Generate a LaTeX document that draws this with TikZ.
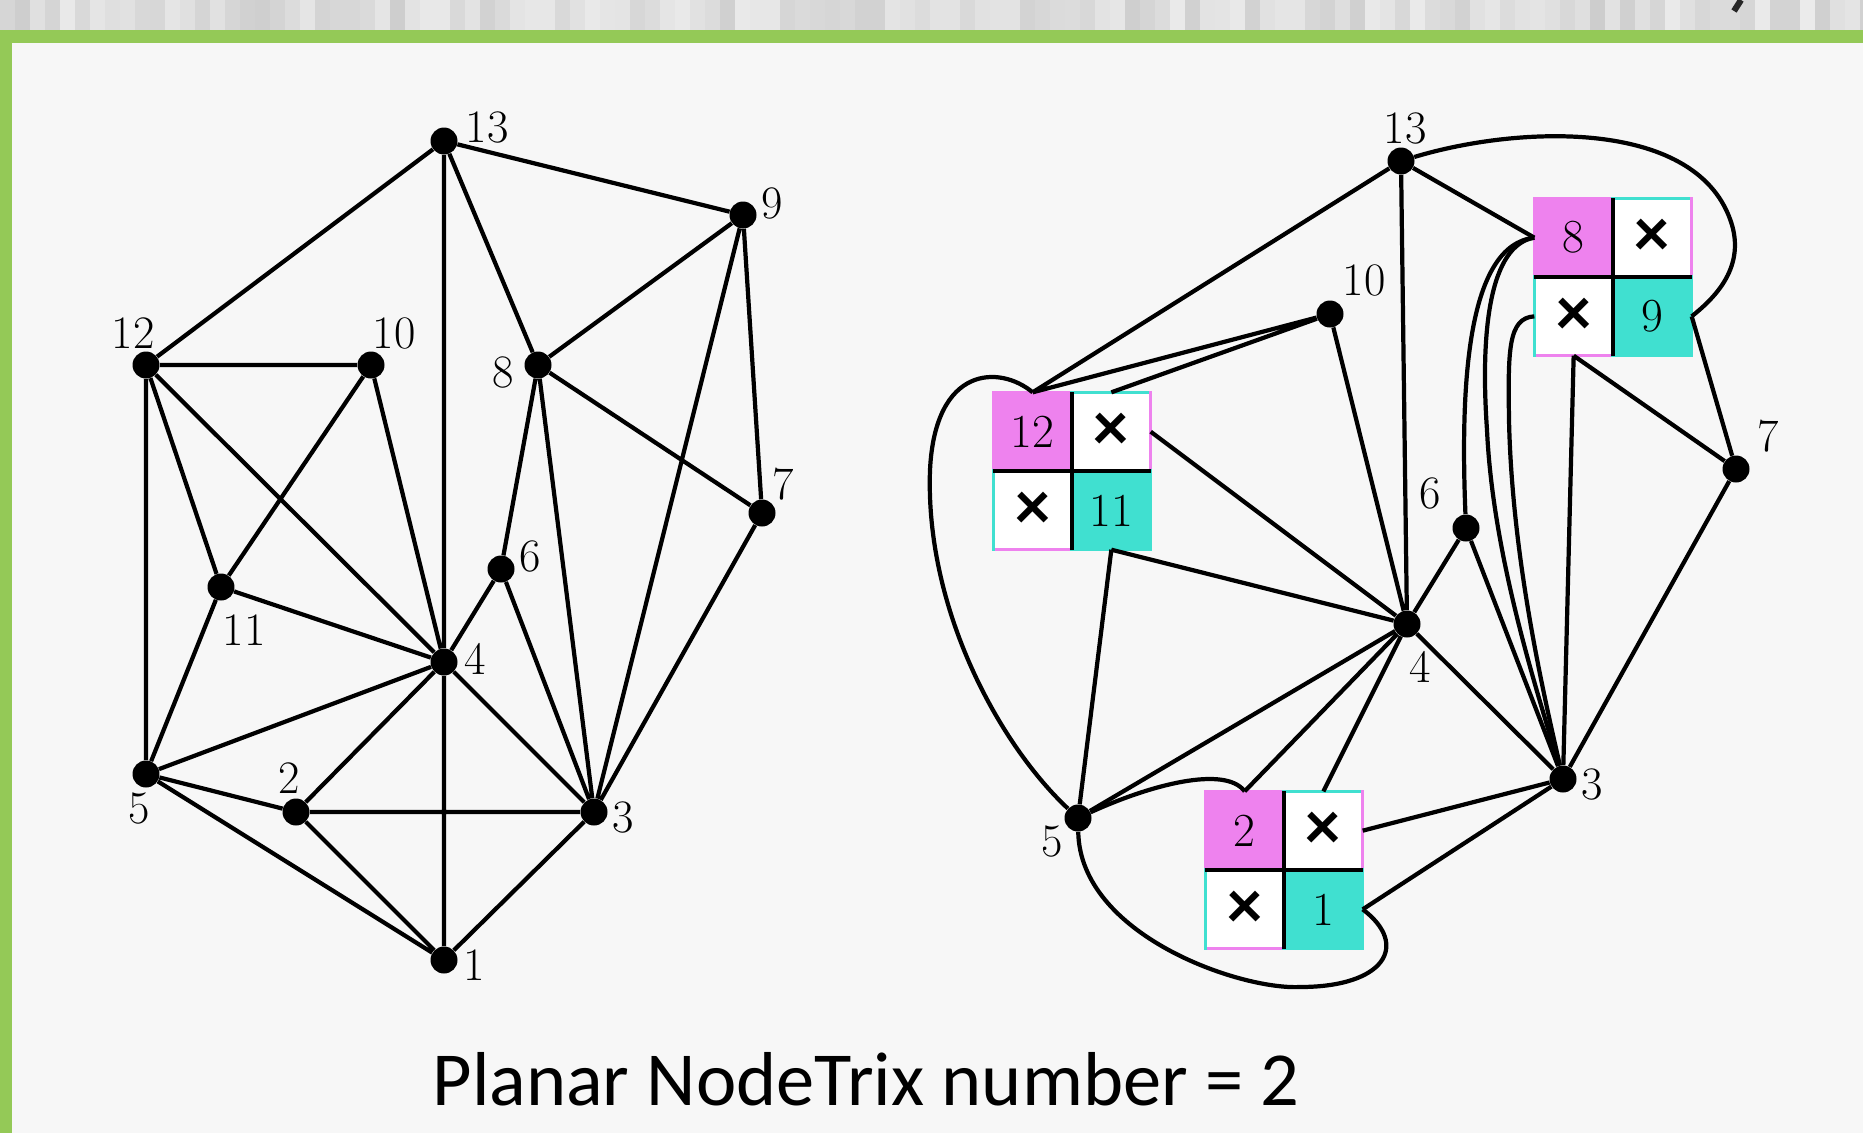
\documentclass[tikz,border=0pt]{standalone}
\usepackage{fontspec}
\newfontfamily\titlefont{Carlito}
\newfontfamily\crossfont{Carlito}
\definecolor{slidegreen}{RGB}{148,201,87}
\definecolor{rowpink}{RGB}{238,130,238}
\definecolor{colteal}{RGB}{64,224,208}
\definecolor{paper}{RGB}{247,247,247}

% a 2x2 NodeTrix matrix: #1 name, #2 centre, #3 first vertex, #4 second vertex
\newcommand\ntmatrix[4]{%
  \node[cell, fill=rowpink, anchor=south east] (#1-a) at #2 {#3};
  \node[xcell, anchor=south west] (#1-b) at #2 {×};
  \node[xcell, anchor=north east] (#1-c) at #2 {×};
  \node[cell, fill=colteal, anchor=north west] (#1-d) at #2 {#4};
  \draw[frame, rowpink] (#1-a.north west) -- (#1-a.north east);
  \draw[frame, colteal] (#1-b.north west) -- (#1-b.north east);
  \draw[frame, rowpink] (#1-c.south west) -- (#1-c.south east);
  \draw[frame, colteal] (#1-d.south west) -- (#1-d.south east);
  \draw[frame, rowpink] (#1-a.north west) -- (#1-a.south west);
  \draw[frame, colteal] (#1-c.north west) -- (#1-c.south west);
  \draw[frame, rowpink] (#1-b.north east) -- (#1-b.south east);
  \draw[frame, colteal] (#1-d.north east) -- (#1-d.south east);
  \draw[divider] (#1-a.south west) -- (#1-b.south east);
  \draw[divider] (#1-a.north east) -- (#1-c.south east);
}

\begin{document}
\begin{tikzpicture}[x=0.02cm,y=-0.02cm,
  edge/.style={line width=2.4pt, black},
  vtx/.style={circle, fill=black, inner sep=0pt, minimum size=0.54cm},
  lbl/.style={font=\fontsize{26.5}{30}\selectfont, inner sep=0pt},
  cell/.style={rectangle, minimum width=1.56cm, minimum height=1.56cm, inner sep=0pt,
    draw=black!35, line width=0.4pt, font=\fontsize{27}{30}\selectfont},
  xcell/.style={cell, fill=white, font=\crossfont\bfseries\fontsize{40}{40}\selectfont},
  frame/.style={line width=1.8pt, line cap=rect},
  divider/.style={line width=2.4pt, black}]

% slide background
\useasboundingbox (0,0) rectangle (1863,1133);
\fill[paper] (0,0) rectangle (1863,1133);
\pgfmathsetseed{11}
\foreach \i in {0,...,124} {
  \pgfmathsetmacro\g{8+12*rnd}
  \fill[black!\g] (\i*15,0) rectangle ++(15.5,30);
}
\fill[slidegreen] (0,30) rectangle (1863,43);
\fill[slidegreen] (0,30) rectangle (12,1133);
\draw[line width=3.5pt, black!85] (1734,11) -- (1741,0);

% ---------- left graph ----------
\node[vtx] (a13) at (444,141) {};
\node[vtx] (a9)  at (743,215) {};
\node[vtx] (a12) at (146,365) {};
\node[vtx] (a10) at (371,365) {};
\node[vtx] (a8)  at (538,365) {};
\node[vtx] (a7)  at (762,513) {};
\node[vtx] (a6)  at (501,569) {};
\node[vtx] (a11) at (221,587) {};
\node[vtx] (a4)  at (444,662) {};
\node[vtx] (a5)  at (146,774) {};
\node[vtx] (a2)  at (296,812) {};
\node[vtx] (a3)  at (594,812) {};
\node[vtx] (a1)  at (444,960) {};

\node[lbl] (la13) at (487,127) {13};
\node[lbl] (la9)  at (772,203) {9};
\node[lbl] (la12) at (133,333) {12};
\node[lbl] (la10) at (394,333) {10};
\node[lbl] (la8)  at (503,372) {8};
\node[lbl] (la7)  at (783,484) {7};
\node[lbl] (la6)  at (530,556) {6};
\node[lbl] (la11) at (244,630) {11};
\node[lbl] (la4)  at (475,659) {4};
\node[lbl] (la5)  at (139,808) {5};
\node[lbl] (la2)  at (289,778) {2};
\node[lbl] (la3)  at (623,817) {3};
\node[lbl] (la1)  at (474,965) {1};

\draw[edge] (a13)--(a12) (a13)--(a4) (a13)--(a8) (a13)--(a9)
  (a9)--(a8) (a9)--(a3) (a9)--(a7)
  (a12)--(a10) (a12)--(a5) (a12)--(a11) (a12)--(a4)
  (a10)--(a11) (a10)--(a4)
  (a8)--(a7) (a8)--(a6) (a8)--(a3)
  (a11)--(a4) (a11)--(a5)
  (a4)--(a6) (a4)--(a5) (a4)--(a2) (a4)--(a1) (a4)--(a3)
  (a6)--(a3) (a7)--(a3)
  (a5)--(a2) (a5)--(a1)
  (a2)--(a3) (a2)--(a1) (a3)--(a1);

% ---------- right graph (NodeTrix) ----------
\node[vtx] (b13) at (1401,161) {};
\node[vtx] (b10) at (1330,314) {};
\node[vtx] (b7)  at (1736,469) {};
\node[vtx] (b6)  at (1466,528) {};
\node[vtx] (b4)  at (1407,624) {};
\node[vtx] (b3)  at (1563,779) {};
\node[vtx] (b5)  at (1078,818) {};

\node[lbl] (lb13) at (1405,128) {13};
\node[lbl] (lb10) at (1364,280) {10};
\node[lbl] (lb7)  at (1768,436) {7};
\node[lbl] (lb6)  at (1430,493) {6};
\node[lbl] (lb4)  at (1420,667) {4};
\node[lbl] (lb3)  at (1592,784) {3};
\node[lbl] (lb5)  at (1052,841) {5};

\ntmatrix{m12}{(1072,471)}{12}{11}
\ntmatrix{m8}{(1613,277)}{8}{9}
\ntmatrix{m2}{(1284,870)}{2}{1}

\draw[edge] (b13) -- (m12-a.north) (b10) -- (m12-a.north) (b10) -- (m12-b.north)
  (m12-b.east) -- (b4) (m12-d.south) -- (b5) (m12-d.south) -- (b4)
  (b10) -- (b4) (b13) -- (b4) (b13) -- (m8-a.west)
  (m8-d.east) -- (b7) (m8-c.south) -- (b3) (m8-c.south) -- (b7)
  (b6) -- (b4) (b6) -- (b3) (b4) -- (b3) (b4) -- (b5)
  (b4) -- (m2-a.north) (b4) -- (m2-b.north)
  (m2-b.east) -- (b3) (m2-d.east) -- (b3) (b7) -- (b3);

\draw[edge] (m12-a.north) .. controls (1000,365) and (935,365) .. (930,470)
  .. controls (925,610) and (1000,745) .. (b5);
\draw[edge] (b13) .. controls (1520,125) and (1700,118) .. (1732,225)
  .. controls (1745,270) and (1712,300) .. (m8-d.east);
\draw[edge] (m8-a.west) .. controls (1468,245) and (1460,380) .. (b6);
\draw[edge] (m8-a.west) .. controls (1490,245) and (1480,330) .. (1487,430)
  .. controls (1493,560) and (1540,700) .. (b3);
\draw[edge] (m8-c.west) .. controls (1508,318) and (1508,350) .. (1509,420)
  .. controls (1512,560) and (1545,700) .. (b3);
\draw[edge] (b5) .. controls (1150,785) and (1225,765) .. (m2-a.north);
\draw[edge] (b5) .. controls (1080,935) and (1240,990) .. (1300,987)
  .. controls (1385,987) and (1410,945) .. (m2-d.east);

% ---------- caption ----------
\node[font=\titlefont\fontsize{43.5}{50}\selectfont, anchor=base, inner sep=0pt]
  (caption) at (866,1105) {Planar NodeTrix number = 2};
\end{tikzpicture}
\end{document}
